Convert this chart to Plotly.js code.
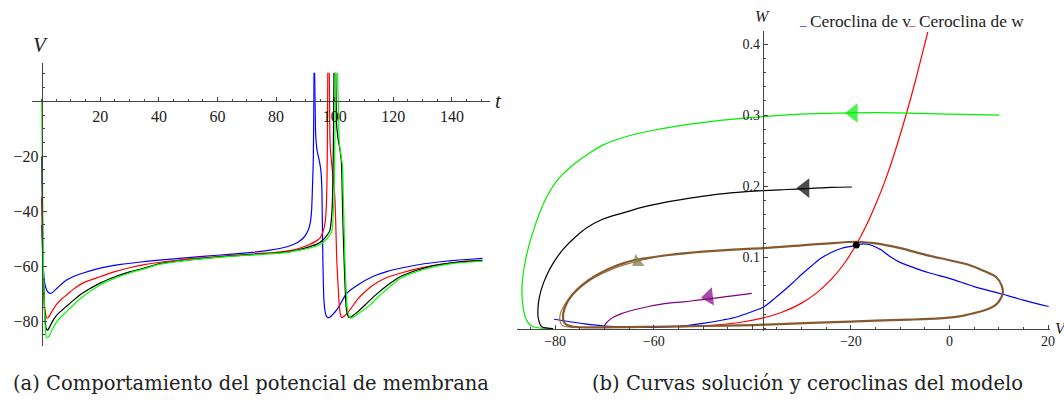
<!DOCTYPE html>
<html><head><meta charset="utf-8">
<script src="https://cdn.plot.ly/plotly-3.0.1.min.js"></script>
<style>html,body{margin:0;padding:0;background:#fff}#chart{width:1064px;height:403px}</style>
</head><body><div id="chart"></div><script>
// ---------- Panel (a): membrane potential V(t) ----------
const blueT  = [0,0.5,1.0,1.4,1.8,2.3,2.8,3.4,4,5,6,8.5,11,14.2,18,22,27,33,40,48,56,64,72,78,82,85,87.5,89.5,90.8,91.6,92.1,92.45,92.7,92.85,92.95,93.05,93.15,93.3,93.5,94.0,94.7,95.2,95.6,95.8,96.0,96.3,96.8,97.3,97.8,98.4,99,101,104.1,108,113,118,122.3,128,134,140,145,150.4];
const blueV  = [-45,-60,-66,-67.8,-69,-69.6,-69.9,-69.8,-69.3,-68.3,-67.3,-65.1,-63.7,-62.5,-61.3,-60.3,-59.4,-58.6,-57.8,-57.1,-56.4,-55.7,-55,-54.2,-53.4,-52.5,-51.3,-49.5,-47.3,-44.5,-40,-30,-21,-5,10.4,null,10.4,0,-12,-18,-21.4,-24.5,-31,-45,-60,-72,-77,-78.5,-78.8,-78.5,-78,-75.5,-69.9,-66.8,-63.8,-61.9,-60.8,-59.6,-58.7,-58,-57.6,-57.2];
const redT   = [0,0.4,0.9,1.2,1.5,1.9,2.3,2.8,3.5,5,7,8.5,11,14,19.9,25,30,35,40.4,48,56,64,72,80,85,88,91,93.5,95,96,96.7,97.1,97.35,97.5,97.65,97.9,98.15,98.3,98.45,98.8,99.2,99.7,100.1,100.5,100.7,101.2,101.6,102.0,102.4,102.9,103.5,105.5,107.5,109.8,113,117,122.3,128,134,140,145,150.4];
const redV   = [-35,-60,-73,-76.5,-78.4,-79,-78.7,-77.8,-76.5,-74,-71.8,-70.5,-68.3,-66.2,-63.9,-62,-60.6,-59.5,-58.6,-57.6,-56.9,-56.2,-55.6,-55,-54.3,-53.5,-52.3,-51,-49.8,-47.5,-44.4,-39,-30,-15,10.4,null,10.4,-8,-16,-21,-25,-30,-36,-50,-57.8,-68,-74.8,-77.8,-78.7,-78.5,-78,-75.5,-72.5,-69.9,-67,-64.5,-62.6,-61,-59.7,-58.8,-58.2,-57.8];
const blackT = [0,0.4,0.9,1.2,1.5,1.9,2.3,2.8,3.5,5,7,8.5,11,14,19.9,25,30,35,40.4,48,56,64,72,80,85,88,91.2,94,96,97.5,98.4,99,99.3,99.55,99.75,100.05,100.35,100.55,100.7,101.2,101.8,102.2,102.4,102.7,103.2,103.9,104.4,104.9,105.5,106,108,110.9,114,118,122.3,128,134,140,145,150.4];
const blackV = [-20,-55,-75,-80,-82.6,-83.3,-83,-82,-80.5,-78,-76,-74.6,-72.3,-69.8,-66.2,-63.9,-62.1,-60.7,-59.1,-58,-57.1,-56.4,-55.8,-55.3,-54.6,-54,-53,-52,-50.5,-48.6,-46.9,-41,-33.5,-15,10.4,null,10.4,-5,-9.2,-14,-17.7,-21,-25,-40,-57.8,-74.8,-77.8,-78.7,-78.6,-78.2,-76.5,-73.6,-70.5,-67,-63.9,-61.5,-59.8,-58.8,-58.3,-58];
const greenT = [0,0.3,0.6,1.0,1.3,1.6,2.0,2.4,2.9,3.5,5,7,8.5,11,14,19.9,25,30,35,40.4,48,56,64,72,80,85,88,91.2,94,96,97.5,99,99.5,99.8,100.05,100.3,100.65,101.0,101.3,101.6,102.2,102.7,102.9,103.2,103.5,104.3,104.9,105.5,106.5,108.5,112,115,118.5,122.3,128,134,140,145,150.4];
const greenV = [0,-30,-60,-78,-83.5,-85.7,-86.1,-85.8,-84.8,-83.3,-80.5,-78,-76.6,-74,-71.2,-66.9,-64.4,-62.5,-61,-59.3,-58.1,-57.2,-56.5,-55.9,-55.4,-54.8,-54.2,-53.5,-52.6,-51.4,-49.8,-47.5,-41,-33.5,-15,10.4,null,10.4,-5,-15.3,-20,-23.8,-33.5,-45,-57.8,-75.4,-78.2,-79,-78.5,-77,-74.2,-71,-67.8,-64.5,-62,-60.2,-59.1,-58.6,-58.2];
const tTickVals = [20,40,60,80,100,120,140];
const vTickVals = [-80,-60,-40,-20];

// ---------- Panel (b): phase plane (V, W) ----------
const vNullV = [-80.2,-77,-74,-70,-65,-60,-55,-50,-46,-43,-40,-37.8,-35,-32,-30,-28,-26,-24,-22,-20,-19,-17.5,-16,-14,-12,-10,-7,-4,0,5,10.6,15,20.1];
const vNullW = [0.013,0.0095,0.0065,0.0035,0.002,0.0017,0.003,0.0073,0.012,0.0166,0.024,0.030,0.045,0.063,0.076,0.088,0.099,0.107,0.1125,0.1155,0.117,0.119,0.1175,0.111,0.101,0.093,0.085,0.078,0.0705,0.059,0.0485,0.040,0.031];
const wNullV = [-55,-48,-42,-38,-34,-30,-27,-24,-21.5,-19,-17,-15,-13,-11,-9,-7,-5.5,-4.4];
const wNullW = [0.0021,0.0046,0.0092,0.0145,0.0228,0.0357,0.0498,0.069,0.090,0.117,0.143,0.174,0.209,0.250,0.296,0.346,0.387,0.417];
const greenTrajV = [10.1,0,-8.7,-15,-22,-30,-38,-46,-55,-62,-66,-70,-73,-76,-79.5,-82,-83.8,-85.3,-86.2,-86.7,-86.6,-86.0,-84.9,-83.1,-81.1];
const greenTrajW = [0.300,0.3015,0.303,0.3035,0.303,0.3015,0.298,0.293,0.285,0.276,0.269,0.259,0.247,0.232,0.209,0.181,0.150,0.117,0.089,0.061,0.036,0.015,0.004,0.0007,0];
const blackTrajV = [-19.8,-24,-28,-33,-37.8,-43,-48,-53,-58,-62,-66,-70.6,-73.5,-76,-78.3,-80.2,-81.7,-82.8,-83.4,-83.4,-82.7,-81.5,-80.4];
const blackTrajW = [0.199,0.1985,0.197,0.1955,0.194,0.1915,0.188,0.183,0.177,0.171,0.163,0.153,0.142,0.128,0.112,0.094,0.075,0.055,0.035,0.014,0.0025,0.0006,0];
const brownStartV = [-60.1,-62.5,-65,-67.5,-70,-72.5,-74.8,-76.8,-78.2,-79,-79,-78.5,-77,-75];
const brownStartW = [0.0996,0.096,0.0915,0.086,0.0785,0.0695,0.058,0.045,0.032,0.019,0.010,0.004,0.002,0.0016];
const cycleV = [-18.9,-25,-30,-37.8,-43.9,-50,-57.4,-61,-64.1,-67.5,-70.5,-73.2,-75.5,-77.2,-78.1,-78.4,-78.1,-77,-75,-65,-60,-50,-40,-34.4,-25,-15,-8,-2,2,4.8,6.8,8.2,9.5,10.2,10.8,10.6,9.5,7,3.7,0,-5,-10,-15.3,-18.9];
const cycleW = [0.122,0.1195,0.117,0.113,0.111,0.108,0.103,0.0995,0.096,0.0885,0.079,0.068,0.055,0.041,0.028,0.016,0.0075,0.0035,0.0018,0.002,0.0025,0.0035,0.0049,0.0063,0.0085,0.011,0.0125,0.0143,0.017,0.0213,0.025,0.0284,0.034,0.040,0.049,0.060,0.072,0.081,0.090,0.096,0.104,0.113,0.120,0.122];
const purpleV = [-40.1,-44,-47.9,-51,-54,-57.4,-61,-64.1,-66.5,-68.2,-69.3,-69.9,-70.1];
const purpleW = [0.0495,0.046,0.0425,0.040,0.0375,0.0354,0.031,0.026,0.021,0.0158,0.010,0.0049,0.0017];
const arrowV = [-19.5,-29.3,-63.3,-48.8];
const arrowW = [0.303,0.1975,0.0935,0.0445];
const arrowAngle = [0,0,-37,-7];
const fixedV = [-18.9];
const fixedW = [0.1175];
const wTickVals = [0.1,0.2,0.3,0.4];
const vPhaseTickVals = [-80,-60,-40,-20,0,20];
const vPhaseTickText = ['\u221280','\u221260','','\u221220','0','20'];
const legendNames = ['Ceroclina de v', 'Ceroclina de w'];

const W = 1064, H = 403;
const px = x => x / W;
const py = y => 1 - y / H;
const serif = 'Liberation Serif';
const capFont = 'DejaVu Serif';

function line(x, y, color, width, xa, ya, name, smooth) {
  return {x, y, type: 'scatter', mode: 'lines', xaxis: xa, yaxis: ya,
    line: {color, width, shape: 'spline', smoothing: smooth}, name: name || '', showlegend: false,
    connectgaps: false, hoverinfo: 'skip'};
}

const traces = [
  line(blueT, blueV, '#0000ff', 1.2, 'x', 'y', 'blue', 0.5),
  line(redT, redV, '#ff0000', 1.2, 'x', 'y', 'red', 0.5),
  line(blackT, blackV, '#000000', 1.2, 'x', 'y', 'black', 0.5),
  line(greenT, greenV, '#00ff00', 1.2, 'x', 'y', 'green', 0.5),

  line(wNullV, wNullW, '#ff0000', 1.2, 'x2', 'y2', legendNames[1], 1),
  line(vNullV, vNullW, '#0000ff', 1.2, 'x2', 'y2', legendNames[0], 1),
  line(greenTrajV, greenTrajW, '#00ee00', 1.2, 'x2', 'y2', '', 1),
  line(blackTrajV, blackTrajW, '#000000', 1.2, 'x2', 'y2', '', 1),
  line(purpleV, purpleW, '#800080', 1.2, 'x2', 'y2', '', 1),
  line(brownStartV, brownStartW, '#a47548', 1.2, 'x2', 'y2', '', 1),
  line(cycleV, cycleW, '#86592f', 2.2, 'x2', 'y2', '', 0.8),
  {x: arrowV, y: arrowW, type: 'scatter', mode: 'markers', xaxis: 'x2', yaxis: 'y2',
   showlegend: false, hoverinfo: 'skip',
   marker: {symbol: 'triangle-left', size: [17,17,13,16], angle: arrowAngle,
            color: ['#00ee00','#000000','#77773f','#800080'], line: {width: 0}}},
  {x: fixedV, y: fixedW, type: 'scatter', mode: 'markers', xaxis: 'x2', yaxis: 'y2',
   showlegend: false, hoverinfo: 'skip',
   marker: {symbol: 'circle', size: 7, color: '#000000', line: {width: 0}}}
];

const axCommon = {showgrid: false, zeroline: false, showline: true, linecolor: '#444', linewidth: 1,
  ticks: 'inside', tickcolor: '#444', tickwidth: 1, fixedrange: true};

const layout = {
  width: W, height: H, margin: {l: 0, r: 0, t: 0, b: 0},
  paper_bgcolor: '#fff', plot_bgcolor: 'rgba(0,0,0,0)',
  font: {family: serif, color: '#222'},
  showlegend: false,
  xaxis: Object.assign({}, axCommon, {domain: [px(31.7), px(490)], range: [-3.41, 153.0],
    anchor: 'free', position: py(101.3), tickmode: 'array', tickvals: tTickVals, ticklen: 4,
    tickfont: {family: serif, size: 16, color: '#222'},
    minor: {tickmode: 'linear', tick0: 0, dtick: 5, ticks: 'inside', ticklen: 2, tickcolor: '#444'}}),
  yaxis: Object.assign({}, axCommon, {domain: [py(346), py(63)], range: [-89.1, 13.95],
    anchor: 'free', position: px(41.7), tickmode: 'array', tickvals: vTickVals, ticklen: 4,
    tickfont: {family: serif, size: 16, color: '#222'},
    minor: {tickmode: 'linear', tick0: 0, dtick: 5, ticks: 'inside', ticklen: 2, tickcolor: '#444'}}),
  xaxis2: Object.assign({}, axCommon, {domain: [px(517), px(1050)], range: [-87.73, 20.39],
    anchor: 'free', position: py(328.5), tickmode: 'array', tickvals: vPhaseTickVals, ticktext: vPhaseTickText, ticklen: 4,
    tickfont: {family: serif, size: 14, color: '#222'},
    minor: {tickmode: 'linear', tick0: 0, dtick: 5, ticks: 'inside', ticklen: 2, tickcolor: '#444'}}),
  yaxis2: Object.assign({}, axCommon, {domain: [py(331), py(31)], range: [-0.0035, 0.4184],
    anchor: 'free', position: px(762.7), tickmode: 'array', tickvals: wTickVals, ticklen: 4,
    tickfont: {family: serif, size: 14, color: '#222'},
    minor: {tickmode: 'linear', tick0: 0, dtick: 0.02, ticks: 'inside', ticklen: 2, tickcolor: '#444'}}),
  annotations: [
    {text: '<i>V</i>', xref: 'paper', yref: 'paper', x: px(40), y: py(45), showarrow: false,
     font: {family: serif, size: 21, color: '#222'}, xanchor: 'center', yanchor: 'middle'},
    {text: '<i>t</i>', xref: 'paper', yref: 'paper', x: px(498), y: py(101), showarrow: false,
     font: {family: serif, size: 21, color: '#222'}, xanchor: 'center', yanchor: 'middle'},
    {text: '<i>W</i>', xref: 'paper', yref: 'paper', x: px(762), y: py(17), showarrow: false,
     font: {family: serif, size: 16, color: '#222'}, xanchor: 'center', yanchor: 'middle'},
    {text: '<i>V</i>', xref: 'paper', yref: 'paper', x: px(1061), y: py(328), showarrow: false,
     font: {family: serif, size: 16, color: '#222'}, xanchor: 'center', yanchor: 'middle'},
    // legend: short coloured dash + series name, as in the reference
    {text: '\u2013', xref: 'paper', yref: 'paper', x: px(803), y: py(24), showarrow: false,
     xanchor: 'center', yanchor: 'middle', font: {family: serif, size: 13, color: '#0000ff'}},
    {text: legendNames[0], xref: 'paper', yref: 'paper', x: px(808), y: py(22), showarrow: false,
     xanchor: 'left', yanchor: 'middle', font: {family: serif, size: 17.3, color: '#222'}},
    {text: '\u2013', xref: 'paper', yref: 'paper', x: px(912), y: py(24), showarrow: false,
     xanchor: 'center', yanchor: 'middle', font: {family: serif, size: 13, color: '#ff0000'}},
    {text: legendNames[1], xref: 'paper', yref: 'paper', x: px(917), y: py(22), showarrow: false,
     xanchor: 'left', yanchor: 'middle', font: {family: serif, size: 17.3, color: '#222'}},
    {text: '(a) Comportamiento del potencial de membrana', xref: 'paper', yref: 'paper',
     x: px(251), y: py(383), showarrow: false, xanchor: 'center', yanchor: 'middle',
     font: {family: capFont, size: 19.5, color: '#222'}},
    {text: '(b) Curvas solución y ceroclinas del modelo', xref: 'paper', yref: 'paper',
     x: px(807), y: py(383), showarrow: false, xanchor: 'center', yanchor: 'middle',
     font: {family: capFont, size: 19.5, color: '#222'}}
  ]
};

Plotly.newPlot('chart', traces, layout, {staticPlot: true, displayModeBar: false});
</script></body></html>
